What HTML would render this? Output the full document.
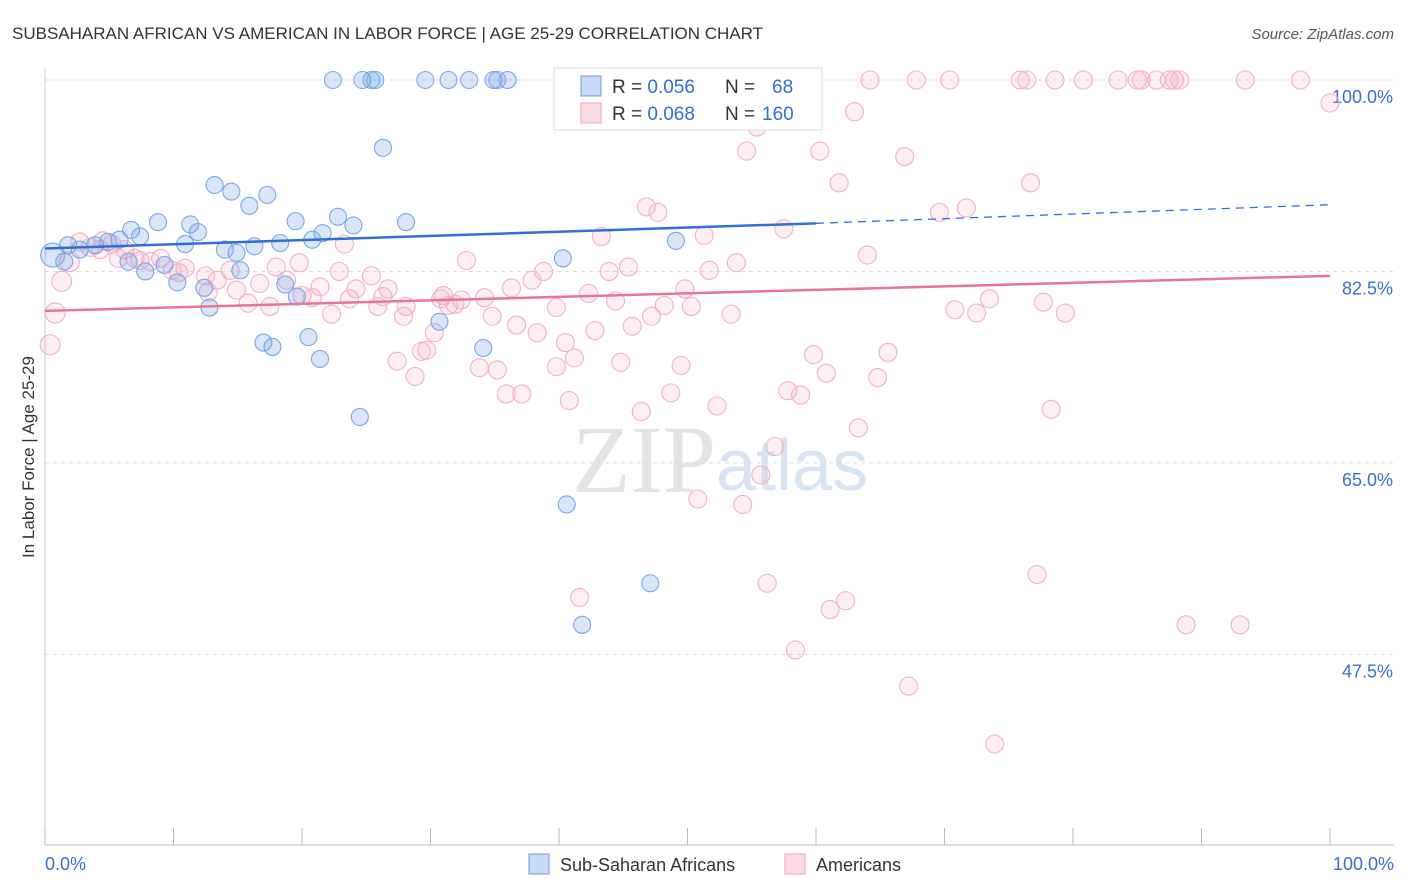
<!DOCTYPE html>
<html><head><meta charset="utf-8"><style>
body{margin:0;background:#fff;font-family:"Liberation Sans",sans-serif;}
svg{display:block}
</style></head><body>
<svg id="chart" width="1406" height="892">
<text x="12" y="39" font-size="17" fill="#333">SUBSAHARAN AFRICAN VS AMERICAN IN LABOR FORCE | AGE 25-29 CORRELATION CHART</text>
<text x="1394" y="39" font-size="15" fill="#555" font-style="italic" text-anchor="end">Source: ZipAtlas.com</text>
<text x="716" y="492" font-size="96" fill="#e4e4e4" text-anchor="end" font-family="Liberation Serif,serif">ZIP</text>
<text x="716" y="490" font-size="72" fill="#d8e4f4">atlas</text>
<g id="grid"></g>
<g id="axes"></g>
<g id="pts"></g>
<g id="lines"></g>
<text transform="translate(34,457) rotate(-90)" font-size="17" fill="#333" text-anchor="middle">In Labor Force | Age 25-29</text>
<g>
<rect x="554" y="68" width="268" height="62" fill="#fff" stroke="#ddd"/>
<rect x="581" y="76" width="20" height="20" fill="rgba(100,150,230,0.35)" stroke="#6a9be0"/>
<rect x="581" y="103" width="20" height="20" fill="rgba(240,150,180,0.35)" stroke="#f0a0bd"/>
<text x="612" y="93" font-size="19" fill="#333">R = <tspan fill="#2f6fd6">0.056</tspan></text>
<text x="725" y="93" font-size="19" fill="#333">N =</text>
<text x="772" y="93" font-size="19" fill="#2f6fd6">68</text>
<text x="612" y="120" font-size="19" fill="#333">R = <tspan fill="#2f6fd6">0.068</tspan></text>
<text x="725" y="120" font-size="19" fill="#333">N =</text>
<text x="762" y="120" font-size="19" fill="#2f6fd6">160</text>
</g>
<g>
<rect x="529" y="854" width="20" height="20" fill="rgba(100,150,230,0.35)" stroke="#6a9be0"/>
<text x="560" y="871" font-size="18" fill="#333">Sub-Saharan Africans</text>
<rect x="785" y="854" width="20" height="20" fill="rgba(240,150,180,0.35)" stroke="#f0a0bd"/>
<text x="816" y="871" font-size="18" fill="#333">Americans</text>
</g>
</svg>
<script>
const yTicks=[100,82.5,65,47.5];
const yTickLabels=["100.0%","82.5%","65.0%","47.5%"];
const xEndLabels=["0.0%","100.0%"];
const blueX=[22.4,24.7,25.4,25.7,29.6,31.4,33.0,34.9,35.2,36.0,59.1,26.3,13.2,14.5,17.3,15.9,8.8,11.3,19.5,22.8,24.0,28.1,6.7,11.9,7.4,21.6,20.8,10.9,5.8,18.3,16.3,14.0,14.9,1.8,2.7,3.9,4.9,0.6,1.5,6.5,9.3,7.8,10.3,15.2,12.4,18.7,19.6,12.8,30.7,20.5,17.0,17.7,21.4,34.1,24.5,40.3,49.1,40.6,47.1,41.8];
const blueY=[100,100,100,100,100,100,100,100,100,100,100,93.8,90.4,89.8,89.5,88.5,87.0,86.8,87.1,87.5,86.7,87.0,86.3,86.1,85.7,86.0,85.4,85.0,85.4,85.1,84.8,84.5,84.2,84.9,84.5,84.9,85.2,84.0,83.4,83.4,83.1,82.5,81.5,82.6,81.0,81.3,80.2,79.2,77.9,76.5,76.0,75.6,74.5,75.5,69.2,83.7,85.3,61.2,54.0,50.2];
const pinkX=[64.2,67.8,70.4,75.9,76.4,78.6,80.8,83.5,85.0,85.3,86.5,87.5,87.9,88.3,93.4,97.7,100.0,63.0,55.4,54.6,60.3,66.9,61.8,76.7,46.8,47.7,69.6,71.7,51.3,57.5,43.3,23.3,64.0,32.8,51.7,53.8,45.4,43.9,38.8,37.9,36.3,19.8,18.0,22.9,25.4,14.4,10.9,12.5,10.4,13.4,16.7,18.8,21.4,24.2,26.7,12.7,14.9,15.8,17.5,20.0,20.8,23.7,26.3,28.1,25.9,27.9,30.8,31.4,32.4,31.0,34.2,31.9,34.8,22.3,39.8,42.3,44.4,48.2,50.3,49.8,53.4,47.2,45.7,42.8,38.3,36.7,40.5,41.2,30.3,29.7,29.3,27.4,28.8,33.8,35.2,39.8,44.8,49.5,35.9,37.1,40.8,46.4,48.7,52.3,57.8,58.8,59.8,60.8,64.8,65.6,63.3,56.8,55.7,50.8,54.3,70.8,72.5,73.5,77.7,79.4,78.3,77.2,56.2,61.1,62.3,41.6,58.4,67.2,73.9,88.8,93.0,0.8,0.4,1.3,1.9,2.7,3.5,4.3,5.2,6.2,7.0,8.2,9.0,9.9,5.7,4.5,7.4];
const pinkY=[100,100,100,100,100,100,100,100,100,100,100,100,100,100,100,100,97.9,97.1,95.7,93.5,93.5,93.0,90.6,90.6,88.4,87.9,87.9,88.3,85.8,86.4,85.7,85.0,84.0,83.5,82.6,83.3,82.9,82.5,82.5,81.7,81.0,83.3,82.9,82.5,82.1,82.6,82.8,82.1,82.4,81.7,81.4,81.7,81.1,80.9,80.9,80.6,80.8,79.6,79.3,80.3,80.1,80.0,80.2,79.3,79.3,78.4,80.0,79.4,79.9,80.3,80.1,79.5,78.4,78.6,79.2,80.5,79.8,79.4,79.3,80.9,78.6,78.4,77.5,77.1,76.9,77.6,76.0,74.6,76.9,75.3,75.2,74.3,72.9,73.7,73.5,73.8,74.2,73.9,71.3,71.3,70.7,69.7,71.4,70.2,71.6,71.2,74.9,73.2,72.8,75.1,68.2,66.5,63.9,61.7,61.2,79.0,78.7,80.0,79.7,78.7,69.9,54.8,54.0,51.6,52.4,52.7,47.9,44.6,39.3,50.2,50.2,78.7,75.8,81.6,83.4,85.2,84.7,84.5,85.0,84.5,83.7,83.4,83.7,82.6,83.7,85.3,83.5];
const blueTrend=[84.6,86.9,88.6];const pinkTrend=[78.9,82.1];
const X0=45,X1=1330,YTOP=80,PXPER=10.94;
const sx=v=>X0+(X1-X0)*v/100, sy=v=>YTOP+(100-v)*PXPER;
const NS="http://www.w3.org/2000/svg";
function mk(tag,attrs,parent){const e=document.createElementNS(NS,tag);for(const k in attrs)e.setAttribute(k,attrs[k]);parent.appendChild(e);return e;}
const grid=document.getElementById('grid'),axes=document.getElementById('axes'),pts=document.getElementById('pts'),lines=document.getElementById('lines');
yTicks.forEach((t,i)=>{
 const l=mk('line',{x1:X0,x2:1394,y1:sy(t),y2:sy(t),stroke:'#ddd','stroke-dasharray':'4,4'},grid);
 
 
 const tx=mk('text',{x:1393,y:sy(t)+23,'font-size':18,fill:'#3a6fd0','text-anchor':'end'},axes);tx.textContent=yTickLabels[i];
 
 
});
const ax=mk('line',{x1:X0,x2:1394,y1:845,y2:845,stroke:'#bbb'},axes);


const ay=mk('line',{x1:X0,x2:X0,y1:68,y2:845,stroke:'#ccc'},axes);


for(let i=0;i<=10;i++){const t=mk('line',{x1:sx(i*10),x2:sx(i*10),y1:828,y2:845,stroke:'#bbb'},axes);
 
 }
[[0,'start',X0],[1,'end',1394]].forEach(([i,a,x])=>{const t=mk('text',{x:x,y:870,'font-size':18,fill:'#3a6fd0','text-anchor':a},axes);t.textContent=xEndLabels[i];
 
 });
pinkX.forEach((x,i)=>{const c=mk('circle',{cx:sx(x),cy:sy(pinkY[i]),r:(x<2?10:9),fill:'rgba(245,170,195,0.2)',stroke:'#f4b0c8','stroke-width':1.1},pts);
 
 });
blueX.forEach((x,i)=>{const c=mk('circle',{cx:sx(x),cy:sy(blueY[i]),r:(x<1?12:8.5),fill:'rgba(120,165,235,0.28)',stroke:'#7ba7e6','stroke-width':1.1},pts);
 
 });
const bl=mk('line',{x1:sx(0),y1:sy(blueTrend[0]),x2:sx(60),y2:sy(blueTrend[1]),stroke:'#2f6fd6','stroke-width':2.5},lines);


const bd=mk('line',{x1:sx(60),y1:sy(blueTrend[1]),x2:sx(100),y2:sy(blueTrend[2]),stroke:'#2f6fd6','stroke-width':1.3,'stroke-dasharray':'8,6'},lines);


const pl=mk('line',{x1:sx(0),y1:sy(pinkTrend[0]),x2:sx(100),y2:sy(pinkTrend[1]),stroke:'#e8739d','stroke-width':2.5},lines);


</script>
</body></html>
